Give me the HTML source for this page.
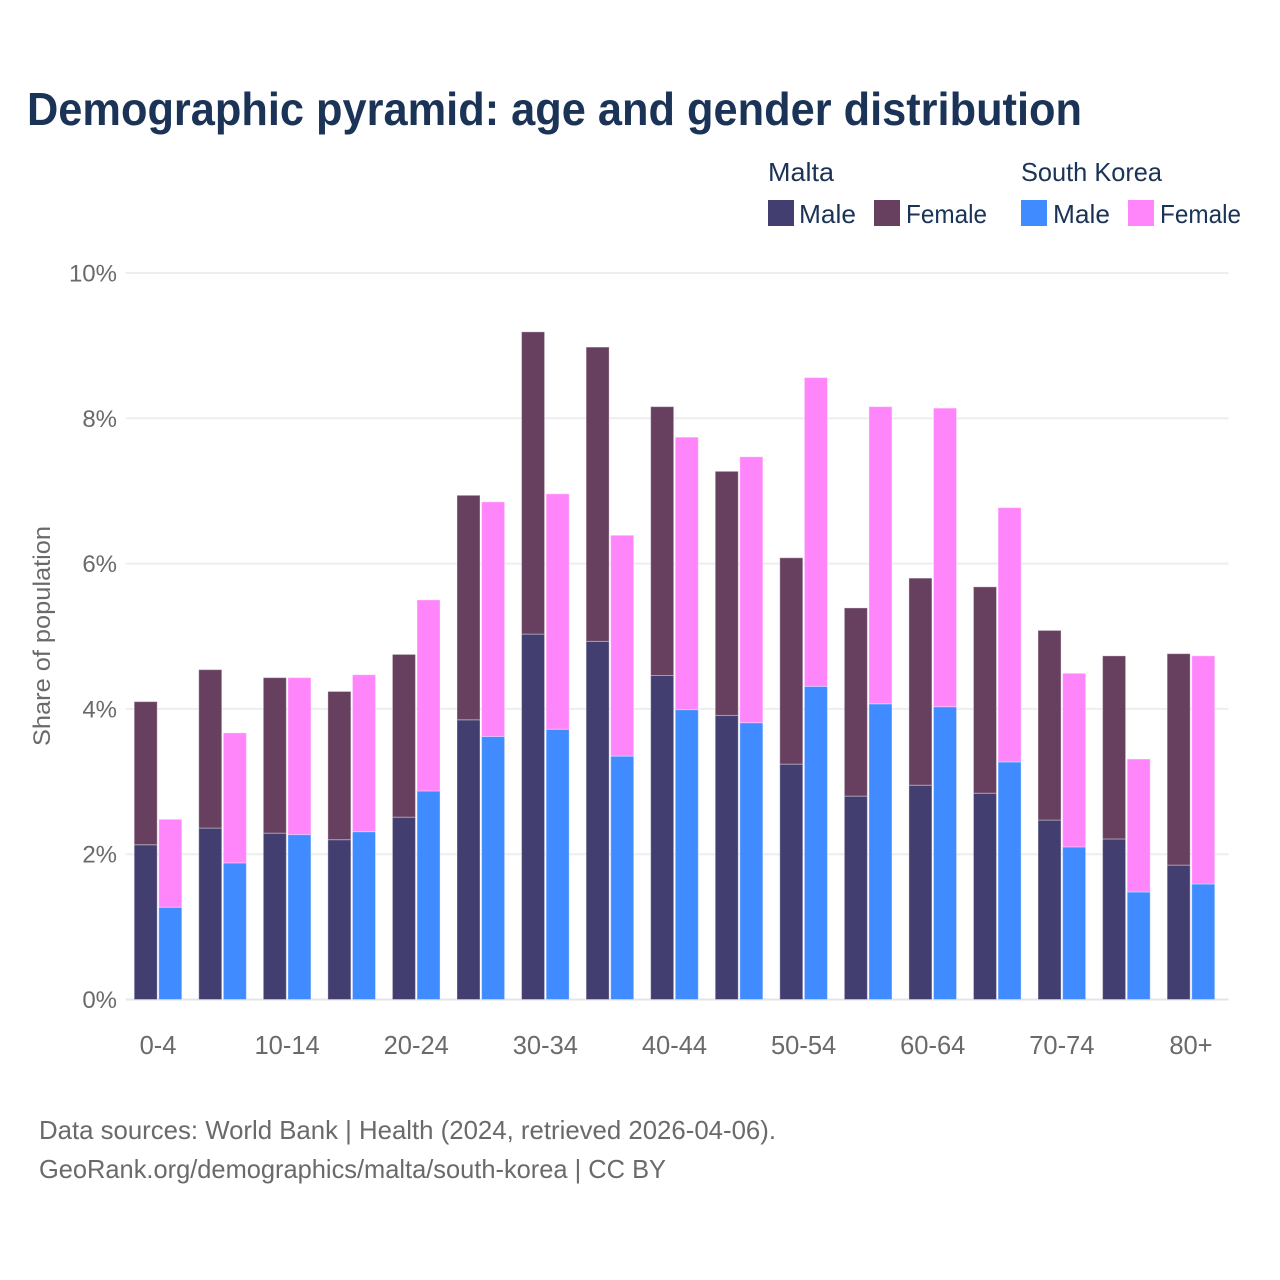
<!DOCTYPE html>
<html lang="en">
<head>
<meta charset="utf-8">
<title>Demographic pyramid</title>
<style>
html,body{margin:0;padding:0;background:#fff;width:1280px;height:1280px;overflow:hidden}
svg{display:block;font-family:"Liberation Sans",sans-serif}
</style>
</head>
<body>
<svg id="chart" width="1280" height="1280" viewBox="0 0 1280 1280" xmlns="http://www.w3.org/2000/svg">
  <rect x="0" y="0" width="1280" height="1280" fill="#ffffff"/>
  <text x="27" y="125" font-size="46" font-weight="700" fill="#1a3356" textLength="1055" lengthAdjust="spacingAndGlyphs">Demographic pyramid: age and gender distribution</text>
  <g font-size="26" fill="#1a3356">
    <text x="768" y="181" textLength="66" lengthAdjust="spacingAndGlyphs">Malta</text>
    <text x="1021" y="181" textLength="141" lengthAdjust="spacingAndGlyphs">South Korea</text>
    <rect x="768" y="200" width="26" height="26" fill="#433e70"/>
    <text x="799" y="223" textLength="57" lengthAdjust="spacingAndGlyphs">Male</text>
    <rect x="874" y="200" width="26" height="26" fill="#674060"/>
    <text x="906" y="223" textLength="81" lengthAdjust="spacingAndGlyphs">Female</text>
    <rect x="1021" y="200" width="26" height="26" fill="#3f8bff"/>
    <text x="1053" y="223" textLength="57" lengthAdjust="spacingAndGlyphs">Male</text>
    <rect x="1128" y="200" width="26" height="26" fill="#ff85fa"/>
    <text x="1160" y="223" textLength="81" lengthAdjust="spacingAndGlyphs">Female</text>
  </g>
  <g id="grid"></g>
  <g id="y-ticks" font-size="24" fill="#6a6a6a" text-anchor="end"></g>
  <g id="bars"></g>
  <g id="x-ticks" font-size="25.5" fill="#6a6a6a" text-anchor="middle"></g>
  <text transform="translate(50,636) rotate(-90)" font-size="24" fill="#6a6a6a" text-anchor="middle" textLength="220" lengthAdjust="spacingAndGlyphs">Share of population</text>
  <g font-size="26" fill="#6a6a6a">
    <text x="39" y="1139" textLength="737" lengthAdjust="spacingAndGlyphs">Data sources: World Bank | Health (2024, retrieved 2026-04-06).</text>
    <text x="39" y="1178" textLength="627" lengthAdjust="spacingAndGlyphs">GeoRank.org/demographics/malta/south-korea | CC BY</text>
  </g>
</svg>
<script>
const categories = ["0-4","5-9","10-14","15-19","20-24","25-29","30-34","35-39","40-44","45-49","50-54","55-59","60-64","65-69","70-74","75-79","80+"];
const xTickLabels = ["0-4","","10-14","","20-24","","30-34","","40-44","","50-54","","60-64","","70-74","","80+"];
const yTicks = [0,2,4,6,8,10];
const maltaMale = [2.13,2.36,2.29,2.20,2.51,3.85,5.03,4.93,4.46,3.91,3.24,2.80,2.95,2.84,2.47,2.21,1.85];
const maltaFemale = [1.97,2.18,2.14,2.04,2.24,3.09,4.16,4.05,3.70,3.36,2.84,2.59,2.85,2.84,2.61,2.52,2.91];
const koreaMale = [1.27,1.88,2.27,2.31,2.87,3.62,3.72,3.35,3.99,3.81,4.31,4.07,4.03,3.27,2.10,1.48,1.59];
const koreaFemale = [1.21,1.79,2.16,2.16,2.63,3.23,3.24,3.04,3.75,3.66,4.25,4.09,4.11,3.50,2.39,1.83,3.14];

const NS = "http://www.w3.org/2000/svg";
const plotLeft = 125.7, plotRight = 1228.5, plotBottom = 999.5, plotTop = 273;
const bandStep = 64.56;
const barWidth = 23, barGap = 1.6;
function yScale(v) { return plotBottom - (v / 10) * (plotBottom - plotTop); }
function xCenter(i) { return plotLeft + 32.3 + i * bandStep; }

const gridGroup = document.getElementById("grid");
const yTickGroup = document.getElementById("y-ticks");
yTicks.forEach(function (t) {
  const line = document.createElementNS(NS, "line");
  
  
  line.setAttribute("x1", plotLeft);
  line.setAttribute("x2", plotRight);
  line.setAttribute("y1", yScale(t));
  line.setAttribute("y2", yScale(t));
  line.setAttribute("stroke", t === 0 ? "#e4e4ec" : "#eceef0");
  line.setAttribute("stroke-width", 2);
  gridGroup.appendChild(line);
  const label = document.createElementNS(NS, "text");
  
  
  label.setAttribute("x", 117);
  label.setAttribute("y", yScale(t) + 8.5);
  label.textContent = t + "%";
  yTickGroup.appendChild(label);
});

const xTickGroup = document.getElementById("x-ticks");
xTickLabels.forEach(function (t, i) {
  if (!t) return;
  const label = document.createElementNS(NS, "text");
  
  
  label.setAttribute("x", xCenter(i));
  label.setAttribute("y", 1054);
  label.textContent = t;
  xTickGroup.appendChild(label);
});

const barGroup = document.getElementById("bars");
function drawSegment(x, base, value, fill) {
  const rect = document.createElementNS(NS, "rect");
  
  
  rect.setAttribute("x", x);
  rect.setAttribute("y", yScale(base + value));
  rect.setAttribute("width", barWidth);
  rect.setAttribute("height", yScale(base) - yScale(base + value));
  rect.setAttribute("fill", fill);
  rect.setAttribute("stroke", "#ffffff");
  rect.setAttribute("stroke-opacity", "0.35");
  rect.setAttribute("stroke-width", "1");
  barGroup.appendChild(rect);
}
categories.forEach(function (c, i) {
  const left = xCenter(i) - barWidth - barGap / 2;
  const right = xCenter(i) + barGap / 2;
  drawSegment(left, 0, maltaMale[i], "#433e70");
  drawSegment(left, maltaMale[i], maltaFemale[i], "#674060");
  drawSegment(right, 0, koreaMale[i], "#3f8bff");
  drawSegment(right, koreaMale[i], koreaFemale[i], "#ff85fa");
});
</script>
</body>
</html>
